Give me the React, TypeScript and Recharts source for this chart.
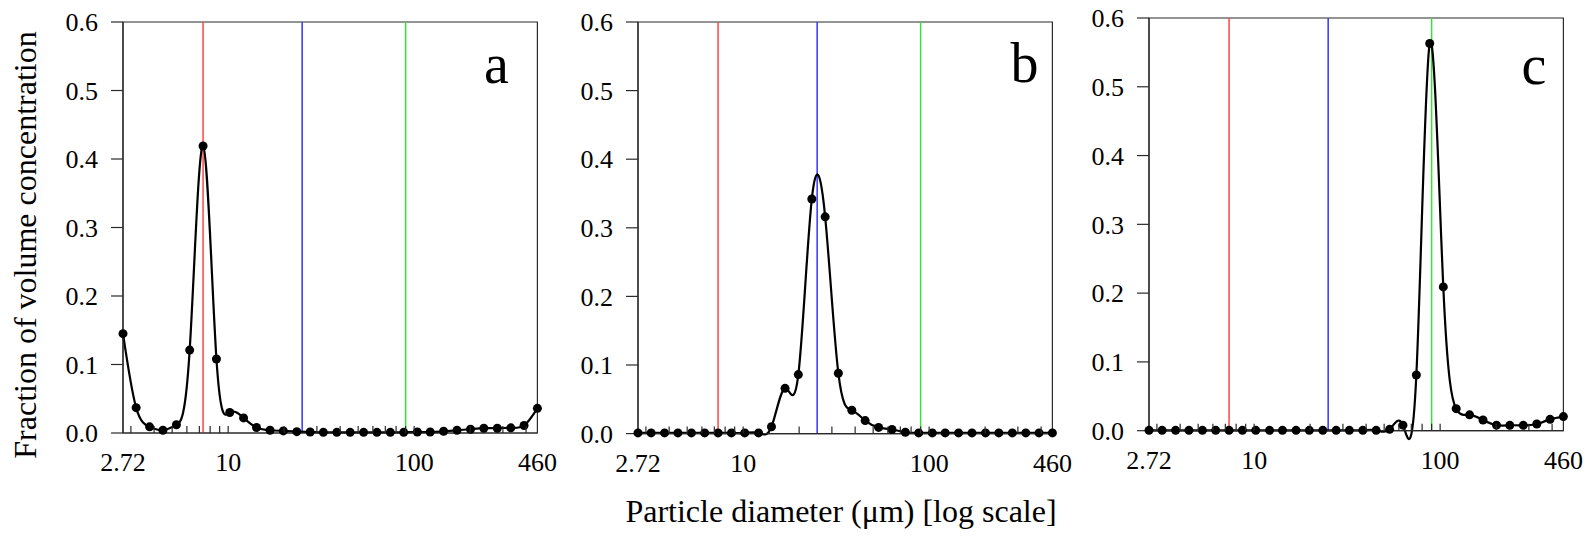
import React from 'react'
import {
  LineChart,
  Line,
  XAxis,
  YAxis,
  ReferenceLine,
  ReferenceArea,
} from 'recharts'

// LISST size bins (µm), log spaced
const SIZES = [
  2.72, 3.2, 3.78, 4.46, 5.27, 6.21, 7.33, 8.65, 10.2, 12.1, 14.2, 16.8, 19.8, 23.4, 27.6, 32.5,
  38.4, 45.3, 53.5, 63.1, 74.5, 87.9, 104, 122, 144, 170, 201, 237, 280, 331, 390, 460,
]

const FRAC_A = [
  0.145, 0.037, 0.009, 0.004, 0.012, 0.121, 0.419, 0.108, 0.03, 0.022, 0.008, 0.004, 0.003, 0.002,
  0.0015, 0.001, 0.001, 0.001, 0.001, 0.001, 0.001, 0.001, 0.0015, 0.0015, 0.0025, 0.004, 0.0055,
  0.007, 0.007, 0.0075, 0.011, 0.036,
]
const FRAC_B = [
  0.001, 0.001, 0.001, 0.001, 0.001, 0.001, 0.001, 0.001, 0.001, 0.001, 0.01, 0.066, 0.086, 0.342,
  0.316, 0.088, 0.034, 0.019, 0.009, 0.006, 0.002, 0.001, 0.001, 0.001, 0.001, 0.001, 0.001, 0.001,
  0.001, 0.001, 0.001, 0.001,
]
const FRAC_C = [
  0.0005, 0.0005, 0.0005, 0.0005, 0.0005, 0.0005, 0.0005, 0.0005, 0.0005, 0.0005, 0.0005, 0.0005,
  0.0005, 0.0005, 0.0005, 0.0005, 0.0005, 0.0005, 0.002, 0.008, 0.081, 0.563, 0.209, 0.032, 0.023,
  0.0155, 0.008, 0.0078, 0.0078, 0.0097, 0.0165, 0.0205,
]

// vertical reference diameters
const MARKER_VALUES = [7.33, 25, 90]
const MARKER_COLORS = ['#ff4545', '#3434ff', '#38e038']

const X_TICKS = [2.72, 3, 4, 5, 6, 7, 8, 9, 10, 20, 30, 40, 50, 60, 70, 80, 90, 100, 200, 300, 400, 460]
const X_LABELS = [2.72, 10, 100, 460]
const Y_TICKS = [0, 0.1, 0.2, 0.3, 0.4, 0.5, 0.6]

const SERIF = '"Liberation Serif", "Times New Roman", Times, "DejaVu Serif", "Noto Serif", serif'
const AXIS = '#2a2a2a'

const PANELS = [
  { letter: 'a', values: FRAC_A, left: 53.3, top: 2.3, plotH: 411 },
  { letter: 'b', values: FRAC_B, left: 568.3, top: 1.7, plotH: 411.6 },
  { letter: 'c', values: FRAC_C, left: 1079.3, top: -1.7, plotH: 412.7 },
]

const LETTER_POS = [
  { x: 484, y: 83 },
  { x: 1010.5, y: 82 },
  { x: 1521.5, y: 83.5 },
]

function XTick(props: any) {
  const { x, y, payload } = props
  const v = payload.value as number
  const edge = v === 2.72 || v === 460
  return (
    <g>
      {!edge && <line x1={x} x2={x} y1={y} y2={y - 7} stroke={AXIS} strokeWidth={1.2} />}
      {X_LABELS.includes(v) && (
        <text x={x} y={y + 38.4} textAnchor="middle" fill="#000" style={{ fontSize: 26, fontFamily: SERIF }}>
          {String(v)}
        </text>
      )}
    </g>
  )
}

function Panel({ values, left, top, plotH }: { values: number[]; left: number; top: number; plotH: number }) {
  const data = SIZES.map((d, i) => ({ d, v: values[i] }))
  const width = 70 + 414.4 + 30
  const height = 20 + plotH + 50
  return (
    <div style={{ position: 'absolute', left, top }}>
      <LineChart width={width} height={height} data={data} margin={{ top: 20, right: 30, bottom: 0, left: 0 }}>
        <XAxis
          dataKey="d"
          type="number"
          scale="log"
          domain={[2.72, 460]}
          ticks={X_TICKS}
          interval={0}
          tickLine={false}
          tickSize={0}
          tickMargin={0}
          axisLine={{ stroke: AXIS, strokeWidth: 1.2 }}
          tick={XTick}
          height={50}
        />
        <YAxis
          type="number"
          domain={[0, 0.6]}
          ticks={Y_TICKS}
          interval={0}
          width={70}
          tickSize={12}
          tickMargin={13}
          tickFormatter={(v: number) => v.toFixed(1)}
          tick={{ fill: '#000', fontSize: 26, style: { fontFamily: SERIF } }}
          axisLine={{ stroke: AXIS, strokeWidth: 1.2 }}
          tickLine={{ stroke: AXIS, strokeWidth: 1.2 }}
        />
        <ReferenceArea x1={2.72} x2={460} y1={0} y2={0.6} fill="none" stroke={AXIS} strokeWidth={1.2} fillOpacity={0} />
        {MARKER_VALUES.map((m, i) => (
          <ReferenceLine key={m} x={m} stroke={MARKER_COLORS[i]} strokeWidth={1.5} />
        ))}
        <Line
          dataKey="v"
          type="natural"
          stroke="#000"
          strokeWidth={2.2}
          dot={{ r: 4.5, fill: '#000', stroke: 'none' }}
          activeDot={false}
          isAnimationActive={false}
        />
      </LineChart>
    </div>
  )
}

export default function App() {
  return (
    <div
      style={{
        position: 'absolute',
        left: 0,
        top: 0,
        width: 1594,
        height: 541,
        overflow: 'hidden',
        background: '#fff',
        fontFamily: SERIF,
      }}
    >
      {PANELS.map((p) => (
        <Panel key={p.letter} values={p.values} left={p.left} top={p.top} plotH={p.plotH} />
      ))}
      <svg width={1594} height={541} style={{ position: 'absolute', left: 0, top: 0, pointerEvents: 'none' }}>
        {PANELS.map((p, i) => (
          <text key={p.letter} x={LETTER_POS[i].x} y={LETTER_POS[i].y} fill="#000" style={{ fontSize: 56, fontFamily: SERIF }}>
            {p.letter}
          </text>
        ))}
        <text
          transform="rotate(-90)"
          x={-245}
          y={35.7}
          textAnchor="middle"
          fill="#000"
          style={{ fontSize: 32, fontFamily: SERIF }}
        >
          Fraction of volume concentration
        </text>
        <text x={841} y={522} textAnchor="middle" fill="#000" style={{ fontSize: 32, fontFamily: SERIF }}>
          Particle diameter (μm) [log scale]
        </text>
      </svg>
    </div>
  )
}
